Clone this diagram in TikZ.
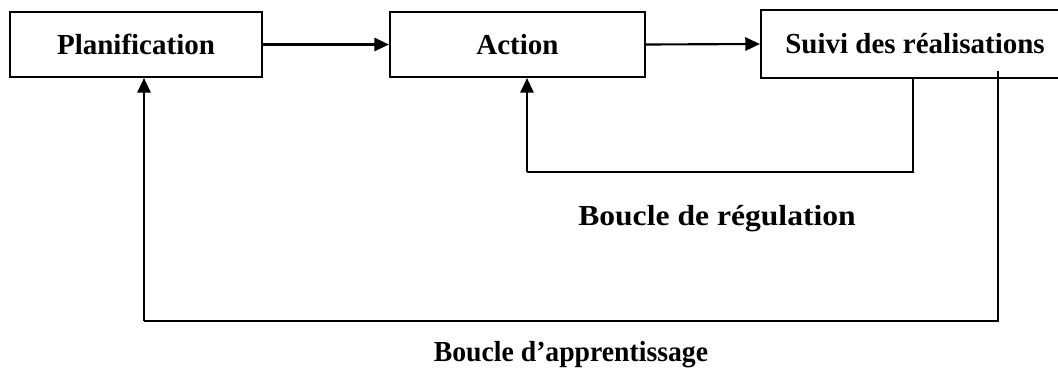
\documentclass[tikz,border=0pt]{standalone}
\usepackage{fontspec}
\setmainfont{Liberation Serif}
\usetikzlibrary{arrows.meta}

\tikzset{
  etape/.style={draw, line width=1.6pt, inner sep=0pt, font=\fontsize{21.75pt}{26pt}\selectfont\bfseries},
  fleche/.style={line width=1.6pt, -{Triangle[length=11pt,width=10pt]}},
  boucle/.style={line width=1.6pt},
  legende/.style={inner sep=0pt, font=\fontsize{21.75pt}{26pt}\selectfont\bfseries}
}

\begin{document}
\begin{tikzpicture}[x=0.75pt,y=0.75pt,yscale=-1,xscale=1]
        \useasboundingbox (0,0) rectangle (1058,371);

        % Boxes
        \node [etape, minimum width=189pt, minimum height=48.75pt] (plan) at (136,44.5) {Planification};
        \node [etape, minimum width=191.25pt, minimum height=48.75pt] (action) at (517.5,44.5) {Action};
        \node [etape, minimum width=231pt, minimum height=51pt] (suivi) at (915,44) {Suivi des réalisations};

        % Forward arrows
        \draw [fleche] (plan.east) -- (action.west);
        \draw [fleche] (action.east) -- (suivi.west);

        % Loop corners
        \coordinate (reg1) at (913,172);
        \coordinate (reg2) at (527,172);
        \coordinate (app0) at (998,71);
        \coordinate (app1) at (998,321);
        \coordinate (app2) at (144,321);

        % Regulation loop
        \draw [boucle] (suivi.south -| reg1) -- (reg1) -- (reg2);
        \draw [fleche] (reg2) -- (action.south -| reg2);

        % Learning loop
        \draw [boucle] (app0) -- (app1) -- (app2);
        \draw [fleche] (app2) -- (plan.south -| app2);

        % Text Node
        \node [legende] (txtreg) at (717,219) {\scalebox{1.09}[1]{Boucle de régulation}};
        % Text Node
        \node [legende] (txtapp) at (571,355) {\scalebox{0.955}[1]{Boucle d’apprentissage}};
\end{tikzpicture}
\end{document}
